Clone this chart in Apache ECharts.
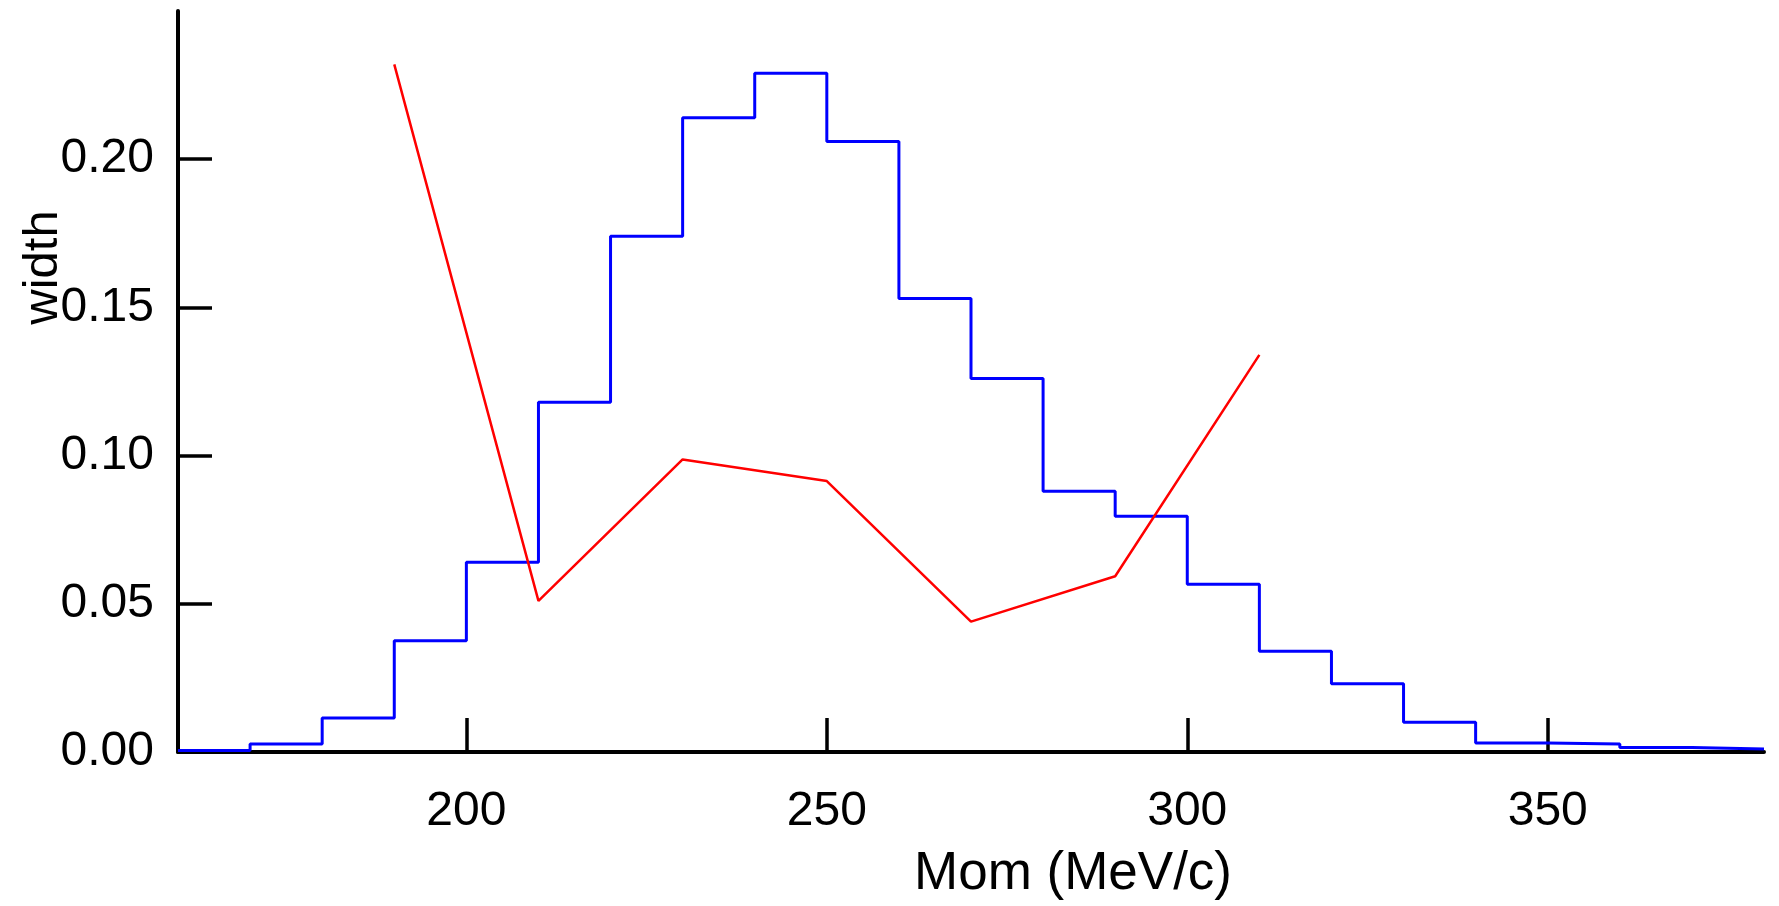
<!DOCTYPE html>
<html>
<head>
<meta charset="utf-8">
<script src="https://cdn.jsdelivr.net/npm/echarts@6/dist/echarts.min.js"></script>
<style>
html,body{margin:0;padding:0;background:#fff;}
#chart{width:1779px;height:906px;}
</style>
</head>
<body>
<div id="chart"></div>
<script>
// Histogram bins (left edges, width 10 MeV/c)
const binStarts = [160,170,180,190,200,210,220,230,240,250,260,270,280,290,300,310,320,330,340,350,360,370];
const binWidth = 10;
const binValues = [0.0005,0.0027,0.0115,0.0375,0.064,0.118,0.174,0.214,0.229,0.206,0.153,0.126,0.088,0.0795,0.0566,0.034,0.023,0.010,0.003,0.0027,0.0015,0.001];
// Red line
const lineX = [190,210,230,250,270,290,310];
const lineY = [0.232,0.051,0.0987,0.0914,0.044,0.0593,0.134];
// Tick labels
const xTicks = [200,250,300,350];
const yTicks = [0,0.05,0.10,0.15,0.20];

const histData = binStarts.map((x,i)=>[x,binValues[i]]);
histData.push([binStarts[binStarts.length-1]+binWidth, binValues[binValues.length-1]]);
const redData = lineX.map((x,i)=>[x,lineY[i]]);

const FONT = 'Liberation Sans';
const chart = echarts.init(document.getElementById('chart'), null, {renderer:'canvas'});
chart.setOption({
  animation:false,
  backgroundColor:'#fff',
  grid:{left:178,right:15,top:11,bottom:154,containLabel:false},
  xAxis:{
    type:'value',min:160,max:380,
    name:'Mom (MeV/c)',nameLocation:'middle',nameGap:96,nameMoveOverlap:false,
    nameTextStyle:{fontFamily:FONT,fontSize:53,color:'#000',padding:[0,0,0,204]},
    axisLine:{show:true,onZero:false,lineStyle:{color:'#000',width:4}},
    axisTick:{show:true,inside:true,length:34,lineStyle:{color:'#000',width:3.5},customValues:xTicks},
    axisLabel:{fontFamily:FONT,fontSize:48,color:'#000',margin:36,customValues:xTicks},
    splitLine:{show:false}
  },
  yAxis:{
    type:'value',min:0,max:0.25,
    name:'width',nameLocation:'middle',nameGap:110,nameMoveOverlap:false,
    nameTextStyle:{fontFamily:FONT,fontSize:49,color:'#000',padding:[0,0,0,228]},
    axisLine:{show:true,onZero:false,lineStyle:{color:'#000',width:4}},
    axisTick:{show:true,inside:true,length:34,lineStyle:{color:'#000',width:3.5},customValues:yTicks},
    axisLabel:{fontFamily:FONT,fontSize:48,color:'#000',margin:24,customValues:yTicks,
      formatter:v=>v.toFixed(2)},
    splitLine:{show:false}
  },
  series:[
    {type:'line',data:histData,step:'end',symbol:'none',
     lineStyle:{color:'#0000ff',width:3},z:2},
    {type:'line',data:redData,symbol:'none',
     lineStyle:{color:'#ff0000',width:2.5},z:3}
  ]
});
</script>
</body>
</html>
